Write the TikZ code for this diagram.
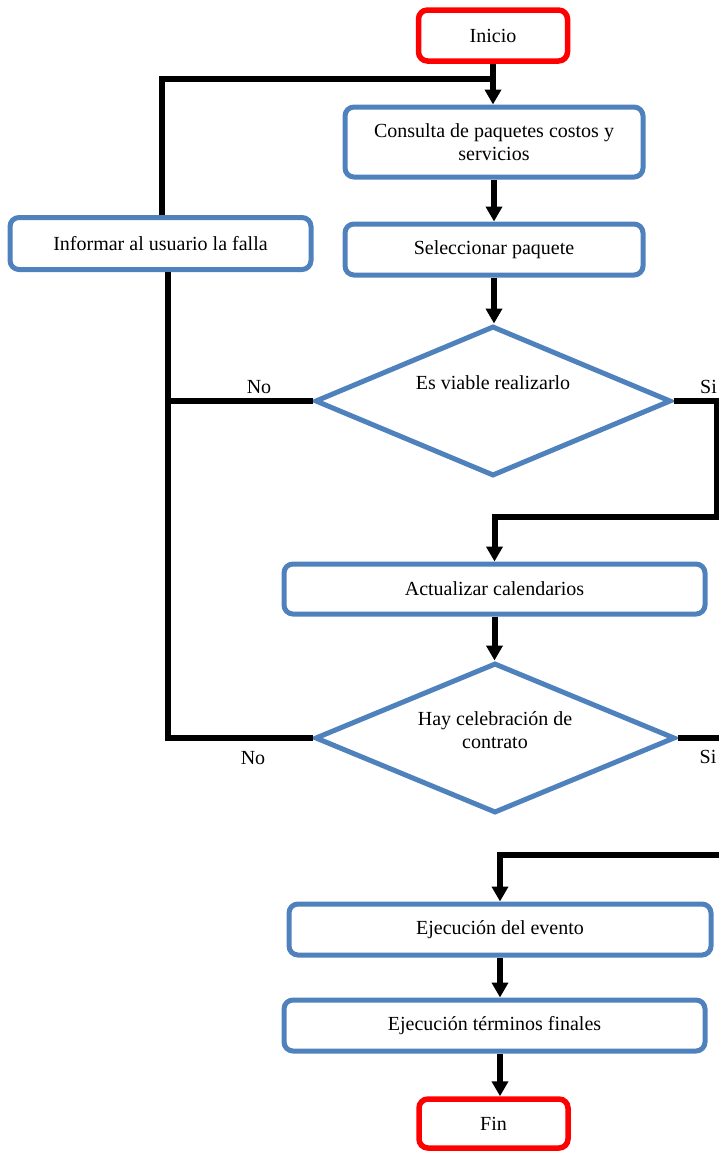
\documentclass[tikz,border=0pt]{standalone}
\usepackage{fontspec}
\setmainfont{Liberation Serif}
\usetikzlibrary{arrows.meta,shapes.geometric}
\definecolor{boxblue}{HTML}{4F81BD}
\definecolor{termred}{HTML}{FF0000}
\begin{document}
\begin{tikzpicture}[x=1pt,y=-1pt,
  every node/.style={font=\fontsize{20}{23}\selectfont},
  proc/.style={draw=boxblue, line width=5pt, rounded corners=9pt, fill=white,
               inner sep=0pt, align=center},
  term/.style={draw=termred, line width=5.5pt, rounded corners=9pt, fill=white, inner sep=0pt},
  decision/.style={diamond, draw=boxblue, line width=5pt, inner sep=0pt},
  flow/.style={line width=6pt, draw=black},
  arr/.style={flow, -{Triangle[width=16pt,length=15pt]}},
  lbl/.style={inner sep=0pt, anchor=base}]
\useasboundingbox (0,0) rectangle (719,1152);

% process boxes and terminals
\node[term, minimum width=149pt, minimum height=51pt] (inicio) at (493,35.5) {Inicio};
\node[proc, minimum width=298pt, minimum height=70pt] (consulta) at (494,142)
  {Consulta de paquetes costos y\\servicios};
\node[proc, minimum width=301pt, minimum height=52pt] (informar) at (160.5,243.5)
  {Informar al usuario la falla};
\node[proc, minimum width=298pt, minimum height=51pt] (selec) at (494,249.5)
  {Seleccionar paquete};
\node[decision, minimum width=356pt, minimum height=150pt] (viable) at (493,401) {};
\node (viabletxt) at (493,383) {Es viable realizarlo};
\node[proc, minimum width=421pt, minimum height=50pt] (actual) at (494.5,589)
  {Actualizar calendarios};
\node[decision, minimum width=360pt, minimum height=150pt] (contrato) at (495,738) {};
\node[align=center] (contratotxt) at (495,730) {Hay celebración de\\contrato};
\node[proc, minimum width=422pt, minimum height=51pt] (evento) at (500,929.5)
  {Ejecución del evento};
\node[proc, minimum width=421pt, minimum height=51pt] (terminos) at (494.5,1025.5)
  {Ejecución términos finales};
\node[term, minimum width=149pt, minimum height=49pt] (fin) at (493.5,1123.5) {Fin};

% helper coordinates for the routed connectors
\coordinate (topjoin) at (inicio.south |- 0,79);
\coordinate (busL) at (168,0);
\coordinate (busR) at (716.5,0);
\coordinate (mid1) at (actual.north |- 0,517);
\coordinate (edgeR) at (719,0);
\coordinate (mid2) at (719,855);

% main flow
\draw[arr] (inicio.south) -- (inicio.south |- consulta.north);
\draw[flow] ([xshift=1.5pt]informar.north) |- (topjoin);
\draw[arr] (consulta.south) -- (selec.north);
\draw[arr] (selec.south) -- (selec.south |- viable.north);

% "No" branches back to the error box
\draw[flow] (viable.west) -- (viable.west -| busL);
\draw[flow] (informar.south -| busL) |- (contrato.west);

% "Si" branches
\draw[arr] (viable.east) -| (busR |- mid1) -- (mid1) -- (actual.north);
\draw[arr] (actual.south) -- (actual.south |- contrato.north);
\draw[flow] (contrato.east) -- (contrato.east -| edgeR);
\draw[arr] (mid2) -| (evento.north);
\draw[arr] (evento.south) -- (evento.south |- terminos.north);
\draw[arr] (terminos.south -| evento.south) -- (fin.north -| evento.south);

% branch labels
\node[lbl] (no1) at (259,393) {No};
\node[lbl] (no2) at (253,764) {No};
\node[lbl] (si1) at (708.5,393) {Si};
\node[lbl] (si2) at (708,763) {Si};
\end{tikzpicture}
\end{document}
